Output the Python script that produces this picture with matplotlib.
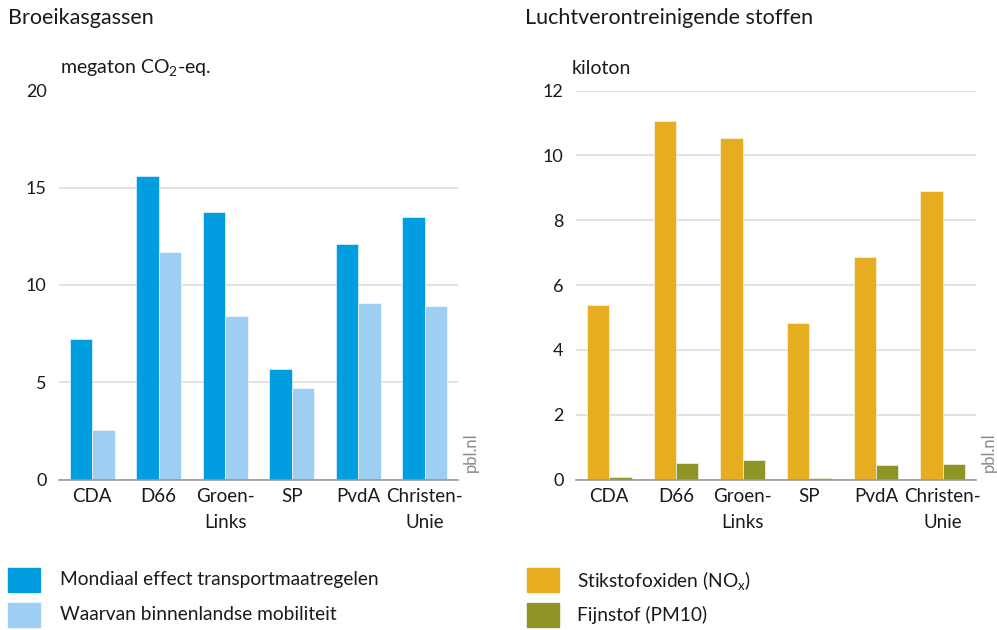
import matplotlib
matplotlib.use("Agg")
import matplotlib.pyplot as plt
from matplotlib.patches import Rectangle
import numpy as np

plt.rcParams['font.family'] = ['Lato', 'DejaVu Sans']
plt.rcParams['mathtext.fontset'] = 'custom'
plt.rcParams['mathtext.rm'] = 'Lato'
plt.rcParams['mathtext.it'] = 'Lato'

categories = ["CDA", "D66", "Groen-\nLinks", "SP", "PvdA", "Christen-\nUnie"]
ghg_global = [7.23, 15.6, 13.73, 5.67, 12.1, 13.49]
ghg_domestic = [2.57, 11.68, 8.4, 4.73, 9.05, 8.93]
nox = [5.38, 11.05, 10.53, 4.83, 6.85, 8.91]
pm10 = [0.08, 0.51, 0.59, 0.06, 0.45, 0.49]

ghg_ticks = [0, 5, 10, 15, 20]
air_ticks = [0, 2, 4, 6, 8, 10, 12]

c_dark = "#009EE0"
c_light = "#9ECEF2"
c_orange = "#E5AD1F"
c_olive = "#8E9526"
grid_c = "#DDDDDD"
axis_c = "#999999"
text_c = "#1a1a1a"

W, H = 997, 630
fig = plt.figure(figsize=(W / 100, H / 100), dpi=100)

def make_ax(x0, x1, y0, y1):
    return fig.add_axes([x0 / W, 1 - y1 / H, (x1 - x0) / W, (y1 - y0) / H])

ax1 = make_ax(59, 458, 90.5, 479.5)
ax2 = make_ax(576, 976, 90.5, 479.5)

x = np.arange(len(categories))
bw = 0.335

def style(ax, ticks, ymax):
    ax.set_xlim(-0.5, len(categories) - 0.5)
    ax.set_ylim(0, ymax)
    ax.set_yticks(ticks)
    ax.set_yticklabels([str(t) for t in ticks])
    ax.yaxis.grid(True, color=grid_c, linewidth=1.2)
    ax.set_axisbelow(True)
    for s in ["top", "right", "left"]:
        ax.spines[s].set_visible(False)
    ax.spines["bottom"].set_color(axis_c)
    ax.spines["bottom"].set_linewidth(1.2)
    ax.tick_params(axis="y", length=0, pad=9, labelsize=13, labelcolor=text_c)
    ax.tick_params(axis="x", length=0, pad=6, labelsize=13.5, labelcolor=text_c)
    ax.set_xticks(x)
    ax.set_xticklabels(categories, linespacing=1.65, va="top")

ax1.bar(x - bw / 2, ghg_global, bw, color=c_dark, edgecolor="white", linewidth=0.4)
ax1.bar(x + bw / 2, ghg_domestic, bw, color=c_light, edgecolor="white", linewidth=0.4)
style(ax1, ghg_ticks, 20)

ax2.bar(x - bw / 2, nox, bw, color=c_orange, edgecolor="white", linewidth=0.4)
ax2.bar(x + bw / 2, pm10, bw, color=c_olive, edgecolor="white", linewidth=0.4)
style(ax2, air_ticks, 12)

# titles
fig.text(8 / W, 1 - 18 / H, "Broeikasgassen", fontsize=15.5, color=text_c, va="center", ha="left")
fig.text(525 / W, 1 - 18 / H, "Luchtverontreinigende stoffen", fontsize=15.5, color=text_c, va="center", ha="left")
fig.text(60 / W, 1 - 68 / H, r"megaton CO$_{\mathregular{2}}$-eq.", fontsize=14, color=text_c, va="center", ha="left")
fig.text(572 / W, 1 - 68 / H, "kiloton", fontsize=14, color=text_c, va="center", ha="left")

# pbl.nl
fig.text(471 / W, 1 - 452 / H, "pbl.nl", fontsize=12, color="#8a8a8a", rotation=90, va="center", ha="center")
fig.text(989 / W, 1 - 452 / H, "pbl.nl", fontsize=12, color="#8a8a8a", rotation=90, va="center", ha="center")

# legend
legend_items = [
    (8, 568, c_dark, 60, "Mondiaal effect transportmaatregelen"),
    (8, 603, c_light, 60, "Waarvan binnenlandse mobiliteit"),
    (527, 568, c_orange, 577, r"Stikstofoxiden (NO$_{\mathregular{x}}$)"),
    (527, 603, c_olive, 577, "Fijnstof (PM10)"),
]
for sx, sy, col, tx, label in legend_items:
    fig.patches.append(Rectangle((sx / W, 1 - (sy + 24) / H), 32 / W, 24 / H,
                                 transform=fig.transFigure, color=col, figure=fig))
    fig.text(tx / W, 1 - (sy + 12) / H, label, fontsize=13.8, color=text_c, va="center", ha="left")

fig.savefig("out.png", dpi=100)
